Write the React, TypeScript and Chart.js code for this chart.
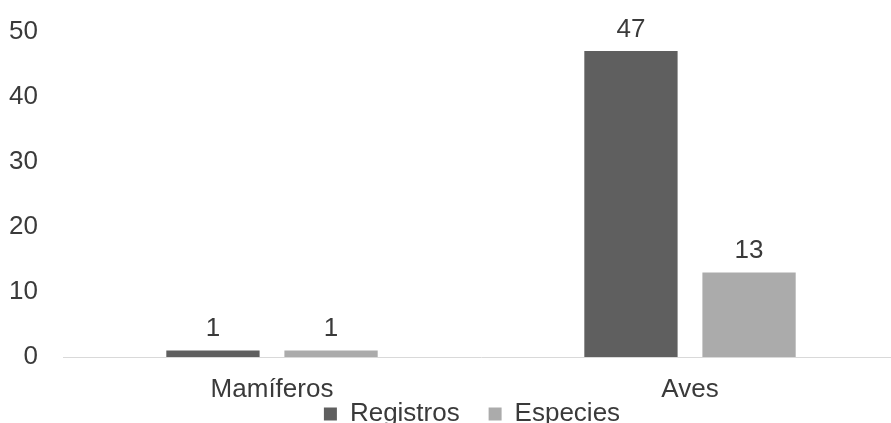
import React, { useEffect, useRef } from "react";
import { Chart, registerables } from "chart.js";

Chart.register(...registerables);

const categories = ["Mamíferos", "Aves"];
const registros = [1, 47];
const especies = [1, 13];
const yTicks = [0, 10, 20, 30, 40, 50];

const FONT = "'Liberation Sans', Arial, sans-serif";
const TEXT = "#3a3a3a";
const SIZE = 26;

const labelPlugin = {
  id: "barLabels",
  afterDatasetsDraw(chart: any) {
    const ctx = chart.ctx;
    ctx.save();
    ctx.font = `${SIZE}px ${FONT}`;
    ctx.fillStyle = TEXT;
    ctx.textAlign = "center";
    ctx.textBaseline = "alphabetic";
    chart.data.datasets.forEach((ds: any, di: number) => {
      const meta = chart.getDatasetMeta(di);
      meta.data.forEach((el: any, i: number) => {
        ctx.fillText(String(ds.data[i]), el.x, el.y - 14);
      });
    });
    ctx.restore();
  },
};

const legendShift = {
  id: "legendShift",
  beforeDraw(chart: any) {
    const lg = chart.legend;
    if (lg) {
      lg.left = 45;
      lg.right = chart.width;
    }
  },
};

export default function App() {
  const ref = useRef<HTMLCanvasElement>(null);
  useEffect(() => {
    if (!ref.current) return;
    const chart = new Chart(ref.current, {
      type: "bar",
      data: {
        labels: categories,
        datasets: [
          { label: "Registros", data: registros, backgroundColor: "#5f5f5f" },
          { label: "Especies", data: especies, backgroundColor: "#ababab" },
        ],
      },
      options: {
        animation: false,
        responsive: false,
        maintainAspectRatio: false,
        layout: { padding: { top: 0, right: 0, left: 0, bottom: 0 } },
        datasets: { bar: { categoryPercentage: 0.565, barPercentage: 0.79 } },
        plugins: {
          tooltip: { enabled: false },
          legend: {
            position: "bottom",
            maxHeight: 22,
            labels: {
              boxWidth: 13,
              boxHeight: 13,
              padding: 0,
              color: TEXT,
              font: { family: FONT, size: SIZE },
              generateLabels: (chart: any) => {
                const items = Chart.defaults.plugins.legend.labels.generateLabels(chart);
                return items.map((it: any, i: number) =>
                  i < items.length - 1 ? { ...it, text: it.text + "    " } : it
                );
              },
            },
          },
        },
        scales: {
          x: {
            afterFit: (scale: any) => {
              scale.height = 44;
            },
            grid: { display: false, drawTicks: false },
            border: { display: true, color: "#d9d9d9", width: 1 },
            ticks: { color: TEXT, font: { family: FONT, size: SIZE }, padding: 17 },
          },
          y: {
            min: 0,
            max: 50,
            afterBuildTicks: (scale: any) => {
              scale.ticks = yTicks.map((v) => ({ value: v }));
            },
            afterFit: (scale: any) => {
              scale.width = 63;
            },
            grid: { display: false, drawTicks: false },
            border: { display: false },
            ticks: { color: TEXT, font: { family: FONT, size: SIZE }, padding: 25 },
          },
        },
      },
      plugins: [labelPlugin, legendShift],
    });
    return () => chart.destroy();
  }, []);
  return (
    <div style={{ position: "fixed", left: 0, top: 0, width: 891, height: 423, background: "#fff", overflow: "hidden" }}>
      <canvas
        ref={ref}
        width={899}
        height={432}
        style={{ position: "absolute", left: 0, top: -9, width: 899, height: 432 }}
      />
    </div>
  );
}
